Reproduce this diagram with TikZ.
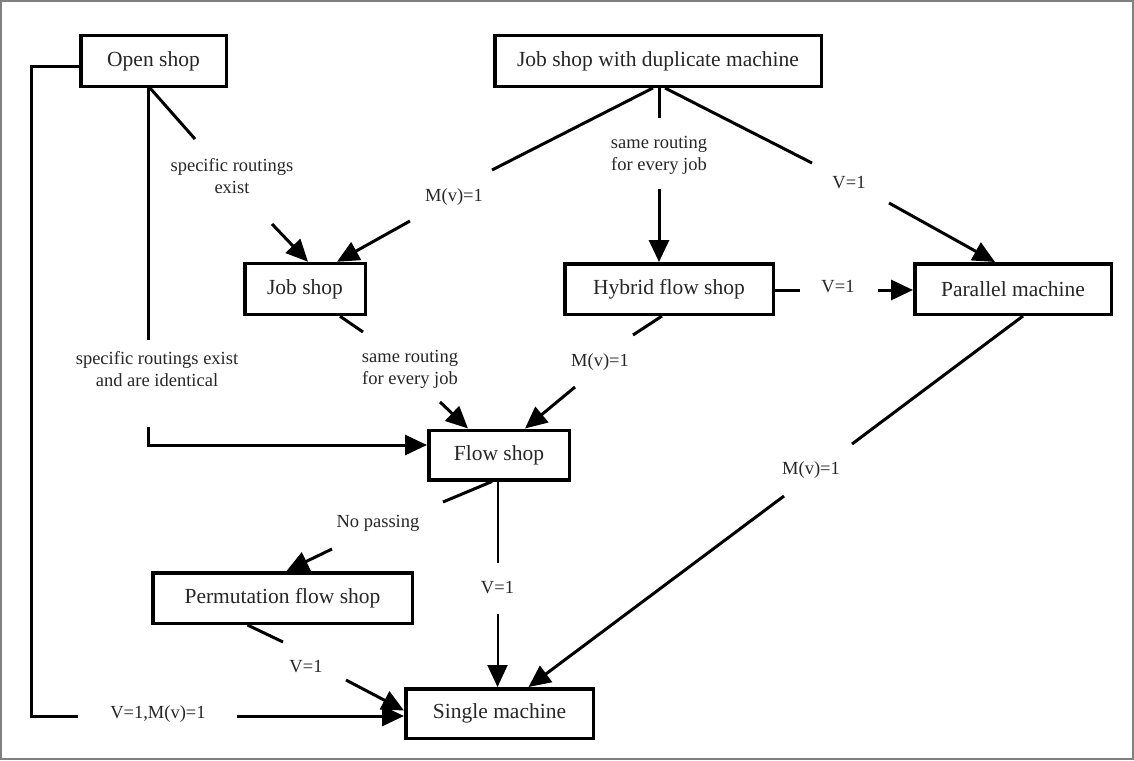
\documentclass[tikz,border=0pt]{standalone}
\usepackage{fontspec}
\setmainfont{Liberation Serif}
\usetikzlibrary{arrows.meta}
\begin{document}
\begin{tikzpicture}[x=1pt,y=-1pt,
  box/.style={draw,line width=3.5pt,fill=white,inner sep=0pt,
    font=\fontsize{21.5}{25}\selectfont,text=black!85},
  cond/.style={font=\fontsize{18.5}{22}\selectfont,align=center,inner sep=0pt,text=black!85},
  link/.style={line width=3pt},
  thin link/.style={line width=2pt},
  tip/.style={-{Triangle[length=22pt,width=20pt]}},
]
\useasboundingbox (0,0) rectangle (1134,760);
\draw[gray,line width=1.5pt] (1,1) rectangle (1133,759);

% shop types
\node[box,minimum width=145.5pt,minimum height=50.5pt] (os)  at (153.5,61)  {Open shop};
\node[box,minimum width=326.5pt,minimum height=50.5pt] (jsd) at (658,61)    {Job shop with duplicate machine};
\node[box,minimum width=120.5pt,minimum height=51pt]   (js)  at (305,289)   {Job shop};
\node[box,minimum width=208.5pt,minimum height=50.5pt] (hfs) at (669,289)   {Hybrid flow shop};
\node[box,minimum width=196.5pt,minimum height=50.5pt] (pm)  at (1013,289)  {Parallel machine};
\node[box,minimum width=140.5pt,minimum height=49.5pt] (fs)  at (499,455)   {Flow shop};
\node[box,minimum width=259.5pt,minimum height=50.5pt] (pfs) at (282.5,598) {Permutation flow shop};
\node[box,minimum width=187.5pt,minimum height=49.5pt] (sm)  at (499.5,713.5) {Single machine};

% free ends where the connectors break around their conditions
\coordinate (loopA) at (31,716);
\coordinate (loopB) at (78,716);
\coordinate (loopC) at (237,716);
\coordinate (osfsA) at (148,340);
\coordinate (osfsB) at (148,427);
\coordinate (osjsA) at (195,139);
\coordinate (osjsB) at (272,224);
\coordinate (jsdjsA) at (492,170);
\coordinate (jsdjsB) at (410,221);
\coordinate (jsdhfsA) at (659,118);
\coordinate (jsdhfsB) at (659,189);
\coordinate (jsdpmA) at (812,163);
\coordinate (jsdpmB) at (889,203);
\coordinate (hfspmA) at (800,290);
\coordinate (hfspmB) at (878,290);
\coordinate (jsfsA) at (363,332);
\coordinate (jsfsB) at (440,402);
\coordinate (hfsfsA) at (633,335);
\coordinate (hfsfsB) at (575,387);
\coordinate (fspfsA) at (443,502);
\coordinate (fspfsB) at (332,549);
\coordinate (fssmA) at (497.5,563);
\coordinate (fssmB) at (497.5,614);
\coordinate (pfssmA) at (283,642);
\coordinate (pfssmB) at (346,680);
\coordinate (pmsmA) at (852,444);
\coordinate (pmsmB) at (784,496);

% Open shop -> Single machine
\draw[link] ([yshift=-5pt]os.west) -| (loopA) -- (loopB);
\node[cond] at (158,714) {V=1,M(v)=1};
\draw[link,tip] (loopC) -- (loopC -| sm.west);

% Open shop -> Flow shop
\draw[link] ([xshift=-5.5pt]os.south) -- (osfsA);
\node[cond] at (157,369) {specific routings exist\\and are identical};
\draw[link,tip] (osfsB) |- ([yshift=10pt]fs.west);

% Open shop -> Job shop
\draw[link] ([xshift=-3.5pt]os.south) -- (osjsA);
\node[cond] at (232,176) {specific routings\\exist};
\draw[link,tip] (osjsB) -- ([xshift=3pt]js.north);

% Job shop with duplicate machine -> Job shop
\draw[link] ([xshift=-5pt]jsd.south) -- (jsdjsA);
\node[cond] at (454,197) {M(v)=1};
\draw[link,tip] (jsdjsB) -- ([xshift=32pt]js.north);

% Job shop with duplicate machine -> Hybrid flow shop
\draw[link] ([xshift=1pt]jsd.south) -- (jsdhfsA);
\node[cond] at (659,155) {same routing\\for every job};
\draw[link,tip] (jsdhfsB) -- ([xshift=-10pt]hfs.north);

% Job shop with duplicate machine -> Parallel machine
\draw[link] ([xshift=7pt]jsd.south) -- (jsdpmA);
\node[cond] at (849,183) {V=1};
\draw[link,tip] (jsdpmB) -- ([xshift=-18pt]pm.north);

% Hybrid flow shop -> Parallel machine
\draw[link] ([yshift=-1pt]hfs.east) -- (hfspmA);
\node[cond] at (838,287) {V=1};
\draw[link,tip] (hfspmB) -- ([yshift=-1pt]pm.west);

% Job shop -> Flow shop
\draw[link] ([xshift=35pt]js.south) -- (jsfsA);
\node[cond] at (410,369) {same routing\\for every job};
\draw[link,tip] (jsfsB) -- ([xshift=-31pt]fs.north);

% Hybrid flow shop -> Flow shop
\draw[link] ([xshift=-7pt]hfs.south) -- (hfsfsA);
\node[cond] at (600,362) {M(v)=1};
\draw[link,tip] (hfsfsB) -- ([xshift=26pt]fs.north);

% Flow shop -> Permutation flow shop
\draw[link] ([xshift=-7pt]fs.south) -- (fspfsA);
\node[cond] at (378,523) {No passing};
\draw[link,tip] (fspfsB) -- ([xshift=4pt]pfs.north);

% Flow shop -> Single machine
\draw[thin link] ([xshift=-1.5pt]fs.south) -- (fssmA);
\node[cond] at (497.5,588) {V=1};
\draw[thin link,tip] (fssmB) -- ([xshift=-2pt]sm.north);

% Permutation flow shop -> Single machine
\draw[link] ([xshift=-35pt]pfs.south) -- (pfssmA);
\node[cond] at (306,667) {V=1};
\draw[link,tip] (pfssmB) -- ([yshift=3pt]sm.west);

% Parallel machine -> Single machine
\draw[link] ([xshift=10pt]pm.south) -- (pmsmA);
\node[cond] at (811,470) {M(v)=1};
\draw[link,tip] (pmsmB) -- ([xshift=29pt]sm.north);
\end{tikzpicture}
\end{document}
